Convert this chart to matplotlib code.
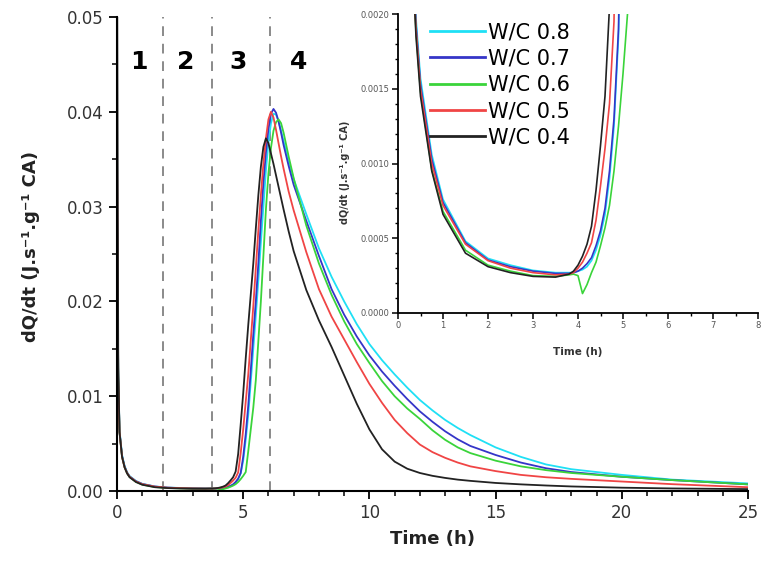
import matplotlib
matplotlib.use("Agg")
import matplotlib.pyplot as plt
from matplotlib.ticker import MultipleLocator, FormatStrFormatter

# ---------------- data (heat flow in mW/g = 1e-3 J.s-1.g-1) ----------------
time_h = [0, 0.05, 0.1, 0.2, 0.3, 0.4, 0.5, 0.75, 1.0, 1.5, 2.0, 2.5, 3.0, 3.5,
          3.8, 3.9, 4.0, 4.1, 4.2, 4.3, 4.4, 4.5, 4.6, 4.7, 4.8, 4.9, 5.0, 5.1,
          5.2, 5.4, 5.5, 5.6, 5.7, 5.8, 5.9, 6.0, 6.1, 6.2, 6.3, 6.4, 6.5, 6.6,
          6.8, 7.0, 7.5, 8.0, 8.5, 9.0, 9.5, 10, 10.5, 11, 11.5, 12, 12.5, 13,
          13.5, 14, 15, 16, 17, 18, 20, 22, 25]

wc08 = [30, 12.5, 6.4, 3.8, 2.65, 1.97, 1.57, 1.06, 0.76, 0.48, 0.365, 0.32, 0.285, 0.27,
        0.27, 0.27, 0.28, 0.29, 0.31, 0.35, 0.42, 0.52, 0.66, 0.90, 1.25, 1.85, 3.2, 5.4,
        8.0, 15.0, 18.5, 22.2, 26.2, 30.0, 33.8, 36.8, 38.8, 39.8, 39.7, 39.0, 38.0, 36.9,
        34.8, 32.9, 29.2, 25.6, 22.6, 20.0, 17.6, 15.5, 13.8, 12.3, 10.9, 9.6, 8.5, 7.5,
        6.65, 5.9, 4.6, 3.6, 2.8, 2.3, 1.7, 1.2, 0.8]

wc07 = [30, 12, 6.3, 3.7, 2.6, 1.93, 1.53, 1.03, 0.74, 0.47, 0.355, 0.31, 0.28, 0.265,
        0.265, 0.27, 0.28, 0.30, 0.33, 0.37, 0.45, 0.55, 0.70, 0.95, 1.3, 1.9, 3.6, 6.0,
        9.0, 16.5, 20.0, 24.0, 28.5, 32.5, 35.7, 38.2, 39.8, 40.3, 39.9, 39.0, 37.8, 36.5,
        34.3, 32.3, 28.5, 24.8, 21.3, 18.6, 16.3, 14.3, 12.6, 11.1, 9.7, 8.4, 7.3, 6.3,
        5.45, 4.75, 3.8, 3.0, 2.4, 2.0, 1.5, 1.15, 0.7]

wc06 = [30, 12, 6.2, 3.6, 2.5, 1.88, 1.48, 0.96, 0.68, 0.42, 0.32, 0.28, 0.25, 0.245,
        0.255, 0.26, 0.25, 0.13, 0.19, 0.27, 0.34, 0.45, 0.57, 0.72, 0.95, 1.25, 1.6, 2.0,
        4.2, 8.8, 11.7, 15.8, 20.0, 24.8, 29.7, 33.5, 36.2, 38.0, 38.9, 39.2, 38.8, 37.8,
        35.3, 33.0, 28.0, 24.0, 20.7, 17.9, 15.5, 13.5, 11.6, 10.0, 8.7, 7.6, 6.4, 5.4,
        4.6, 4.0, 3.2, 2.6, 2.2, 1.9, 1.5, 1.15, 0.7]

wc05 = [36, 12, 6.2, 3.6, 2.5, 1.9, 1.50, 1.00, 0.72, 0.46, 0.35, 0.30, 0.27, 0.255,
        0.26, 0.27, 0.30, 0.34, 0.40, 0.47, 0.62, 0.85, 1.1, 1.4, 1.95, 4.0, 6.5, 9.4,
        12.3, 19.5, 23.5, 27.5, 31.2, 34.5, 37.2, 39.2, 40.0, 39.4, 38.1, 36.7, 35.3, 34.0,
        31.6, 29.6, 25.2, 21.3, 18.4, 16.0, 13.6, 11.3, 9.3, 7.5, 6.1, 4.9, 4.1, 3.5,
        3.0, 2.6, 2.1, 1.7, 1.45, 1.28, 1.00, 0.72, 0.40]

wc04 = [60, 13, 6.2, 3.6, 2.5, 1.85, 1.45, 0.95, 0.66, 0.40, 0.31, 0.27, 0.245, 0.24,
        0.26, 0.28, 0.32, 0.38, 0.46, 0.58, 0.82, 1.12, 1.45, 2.05, 3.9, 7.0, 10.3, 14.0,
        17.5, 24.0, 27.7, 31.2, 34.2, 36.3, 37.2, 36.7, 35.6, 34.5, 33.3, 32.1, 30.9, 29.7,
        27.4, 25.3, 21.2, 18.0, 15.2, 12.2, 9.2, 6.5, 4.4, 3.1, 2.35, 1.9, 1.6, 1.38,
        1.2, 1.07, 0.85, 0.70, 0.58, 0.48, 0.35, 0.27, 0.20]

series_labels = ["W/C 0.8", "W/C 0.7", "W/C 0.6", "W/C 0.5", "W/C 0.4"]
series_values = [wc08, wc07, wc06, wc05, wc04]
series_colors = ["#1fe0f5", "#3535c8", "#3ad43a", "#f04545", "#222222"]

stage_bounds = [1.82, 3.75, 6.07]
stage_labels = ["1", "2", "3", "4"]
stage_label_x = [0.87, 2.72, 4.8, 7.2]

main_xticks = [0, 5, 10, 15, 20, 25]
main_yticks = [0.00, 0.01, 0.02, 0.03, 0.04, 0.05]
inset_xticks = [0, 1, 2, 3, 4, 5, 6, 7, 8]
inset_yticks = [0.0000, 0.0005, 0.0010, 0.0015, 0.0020]

ylabel = "dQ/dt (J.s\u207b\u00b9.g\u207b\u00b9 CA)"

# ---------------- figure ----------------
plt.rcParams['font.family'] = ['DejaVu Sans']
fig = plt.figure(figsize=(7.61, 5.63), dpi=100)
ax = fig.add_axes([117/761, 1 - 491/563, 631/761, 474/563])

for vals, col, lab in zip(series_values, series_colors, series_labels):
    ax.plot(time_h, [v / 1000 for v in vals], color=col, lw=1.3, label=lab)

for xb in stage_bounds:
    ax.axvline(xb, color="#8a8a8a", lw=1.4, ls=(0, (5, 4)), zorder=0)
for lx, lt in zip(stage_label_x, stage_labels):
    ax.text(lx, 0.0453, lt, fontsize=18, fontweight="bold", ha="center", va="center")

ax.set_xlim(0, 25)
ax.set_ylim(0, 0.05)
ax.set_xticks(main_xticks)
ax.set_yticks(main_yticks)
ax.yaxis.set_major_formatter(FormatStrFormatter("%.2f"))
ax.xaxis.set_minor_locator(MultipleLocator(1))
ax.yaxis.set_minor_locator(MultipleLocator(0.005))
for s in ["top", "right"]:
    ax.spines[s].set_visible(False)
for s in ["left", "bottom"]:
    ax.spines[s].set_linewidth(1.5)
ax.tick_params(which="major", direction="out", length=6, width=1.3, labelsize=12,
               labelcolor="#333333")
ax.tick_params(which="minor", direction="out", length=3.5, width=1.1)
ax.set_xlabel("Time (h)", fontsize=13, fontweight="bold", color="#222222")
ax.set_ylabel(ylabel, fontsize=13, fontweight="bold", color="#222222")
ax.xaxis.set_label_coords(0.5, -0.082)
ax.yaxis.set_label_coords(-0.122, 0.515)

# ---------------- inset ----------------
axi = fig.add_axes([398/761, 1 - 313/563, 360/761, 299/563])
axi.set_facecolor("white")
for vals, col, lab in zip(series_values, series_colors, series_labels):
    axi.plot(time_h, [v / 1000 for v in vals], color=col, lw=1.2, label=lab)
axi.set_xlim(0, 8)
axi.set_ylim(0, 0.002)
axi.set_xticks(inset_xticks)
axi.set_yticks(inset_yticks)
axi.yaxis.set_major_formatter(FormatStrFormatter("%.4f"))
axi.xaxis.set_minor_locator(MultipleLocator(0.5))
axi.yaxis.set_minor_locator(MultipleLocator(0.0001))
for s in ["top", "right"]:
    axi.spines[s].set_visible(False)
for s in ["left", "bottom"]:
    axi.spines[s].set_linewidth(1.3)
axi.tick_params(which="major", direction="out", length=4, width=1.1, labelsize=6,
                labelcolor="#555555", pad=2)
axi.tick_params(which="minor", direction="out", length=2.5, width=1.0)
axi.set_xlabel("Time (h)", fontsize=7.5, fontweight="bold", color="#333333")
axi.set_ylabel(ylabel, fontsize=7, fontweight="bold", color="#333333")
axi.xaxis.set_label_coords(0.5, -0.115)
axi.yaxis.set_label_coords(-0.132, 0.47)

leg = axi.legend(loc="upper left", bbox_to_anchor=(0.09, 0.972), frameon=False,
                 fontsize=15, handlelength=2.6, handletextpad=0.15, labelspacing=0.3,
                 borderpad=0, borderaxespad=0)
for line in leg.get_lines():
    line.set_linewidth(2.0)

fig.savefig("out.png", dpi=100)
